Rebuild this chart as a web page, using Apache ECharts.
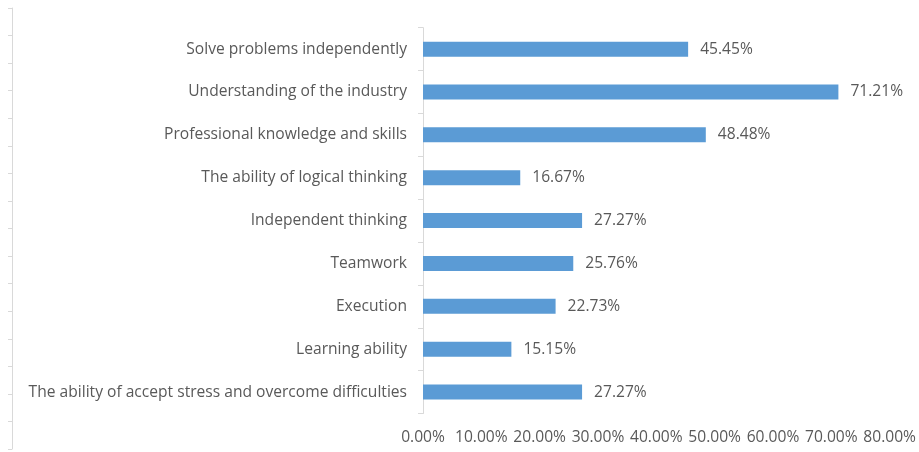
<!DOCTYPE html>
<html>
<head>
<meta charset="utf-8">
<script src="https://cdn.jsdelivr.net/npm/echarts@6/dist/echarts.min.js"></script>
<style>
  html, body { margin: 0; padding: 0; background: #ffffff; }
  #chart { width: 919px; height: 452px; }
</style>
</head>
<body>
<div id="chart"></div>
<script>
// Abilities, listed top to bottom
const categories = [
  'Solve problems independently',
  'Understanding of the industry',
  'Professional knowledge and skills',
  'The ability of logical thinking',
  'Independent thinking',
  'Teamwork',
  'Execution',
  'Learning ability',
  'The ability of accept stress and overcome difficulties'
];
// Share of respondents (%)
const shares = [45.45, 71.21, 48.48, 16.67, 27.27, 25.76, 22.73, 15.15, 27.27];
// Percentage axis ticks
const xTicks = [0, 10, 20, 30, 40, 50, 60, 70, 80];

const FONT = '"Open Sans", "Noto Sans", sans-serif';
const SIZE = 15.6;
const TEXT = '#595959';
const LINE = '#d9d9d9';

const chart = echarts.init(document.getElementById('chart'), null, { renderer: 'canvas' });

chart.setOption({
  animation: false,
  backgroundColor: '#ffffff',
  grid: [
    { left: 423, right: 27, top: 27.7, bottom: 38.5, containLabel: false },
    // thin ruler along the left edge
    { left: 12, width: 1, top: 8, height: 441, containLabel: false }
  ],
  xAxis: [
    {
      gridIndex: 0,
      type: 'value',
      min: xTicks[0],
      max: xTicks[xTicks.length - 1],
      interval: xTicks[1] - xTicks[0],
      axisLine: { show: false },
      axisTick: { show: false },
      splitLine: { show: false },
      axisLabel: {
        color: TEXT,
        fontFamily: FONT,
        fontSize: SIZE,
        margin: 16,
        formatter: v => v.toFixed(2) + '%'
      }
    },
    { gridIndex: 1, type: 'value', show: false }
  ],
  yAxis: [
    {
      gridIndex: 0,
      type: 'category',
      data: categories,
      inverse: true,
      axisLine: { show: true, lineStyle: { color: LINE, width: 1 } },
      axisTick: { show: true, length: 5, lineStyle: { color: LINE } },
      splitLine: { show: false },
      axisLabel: {
        color: TEXT,
        fontFamily: FONT,
        fontSize: SIZE,
        margin: 16
      }
    },
    {
      gridIndex: 1,
      type: 'value',
      min: 0,
      max: 16,
      interval: 1,
      axisLine: { show: true, lineStyle: { color: LINE, width: 1 } },
      axisTick: { show: true, length: 4, lineStyle: { color: LINE } },
      axisLabel: { show: false },
      splitLine: { show: false }
    }
  ],
  series: [
    {
      type: 'bar',
      xAxisIndex: 0,
      yAxisIndex: 0,
      data: shares,
      barWidth: 15,
      itemStyle: { color: '#5b9bd5' },
      label: {
        show: true,
        position: 'right',
        distance: 12,
        color: TEXT,
        fontFamily: FONT,
        fontSize: SIZE,
        formatter: p => p.value.toFixed(2) + '%'
      }
    }
  ]
});
</script>
</body>
</html>
